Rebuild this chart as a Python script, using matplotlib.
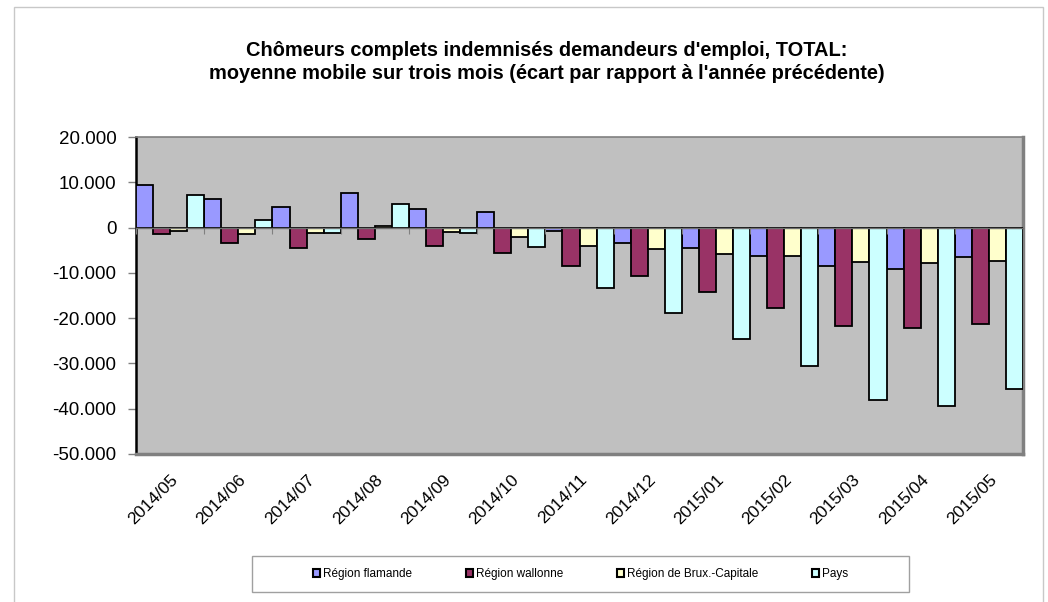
import matplotlib
matplotlib.use("Agg")
import matplotlib.pyplot as plt
import numpy as np
from matplotlib.patches import Patch, Rectangle
from matplotlib.ticker import FuncFormatter

plt.rcParams['font.family'] = ['Liberation Sans', 'DejaVu Sans']

categories = ["2014/05", "2014/06", "2014/07", "2014/08", "2014/09", "2014/10", "2014/11",
              "2014/12", "2015/01", "2015/02", "2015/03", "2015/04", "2015/05"]
flamande = [9500, 6400, 4500, 7600, 4000, 3400, -700, -3500, -4600, -6200, -8400, -9100, -6600]
wallonne = [-1400, -3400, -4500, -2600, -4100, -5600, -8500, -10700, -14200, -17700, -21800, -22200, -21400]
bruxelles = [-700, -1400, -1300, 300, -1000, -2000, -4100, -4700, -5800, -6200, -7500, -7900, -7400]
pays = [7300, 1600, -1300, 5200, -1200, -4400, -13300, -18900, -24600, -30500, -38000, -39500, -35700]

series_names = ["Région flamande", "Région wallonne", "Région de Brux.-Capitale", "Pays"]
series_values = [flamande, wallonne, bruxelles, pays]
colors = ["#9999FF", "#993366", "#FFFFCC", "#CCFFFF"]

title = ("Chômeurs complets indemnisés demandeurs d'emploi, TOTAL:\n"
         "moyenne mobile sur trois mois (écart par rapport à l'année précédente)")

W, H = 1048, 602
fig = plt.figure(figsize=(W / 100, H / 100), dpi=100)

# outer chart border
fig.patches.append(Rectangle((14 / W, -0.02), (1043 - 14) / W, 1 - 7 / H + 0.02,
                             transform=fig.transFigure, fill=False,
                             edgecolor="#C8C8C8", linewidth=1.0))

ax = fig.add_axes([136 / W, 1 - 454 / H, (1023 - 136) / W, (454 - 137) / H])
ax.set_facecolor("#C0C0C0")

x = np.arange(len(categories))
bw = 0.25
for k, (vals, col, name) in enumerate(zip(series_values, colors, series_names)):
    ax.bar(x + (k - 1.5) * bw, vals, width=bw, color=col, edgecolor="black",
           linewidth=1.3, label=name, zorder=3)

ymin, ymax = -50000, 20000
ax.set_ylim(ymin, ymax)
ax.set_xlim(-0.5, len(categories) - 0.5)
ax.set_yticks(np.arange(ymin, ymax + 1, 10000))
ax.yaxis.set_major_formatter(FuncFormatter(lambda v, p: f"{v:,.0f}".replace(",", ".")))
ax.tick_params(axis="y", direction="out", length=6, color="#808080", width=1,
               labelsize=13.5, pad=8)

ax.set_xticks(x)
ax.set_xticklabels(categories, rotation=45, ha="right", rotation_mode="anchor",
                   fontsize=12.5)
ax.tick_params(axis="x", length=0, pad=13)

for s in ["top"]:
    ax.spines[s].set_color("#808080")
    ax.spines[s].set_linewidth(1.2)
for s in ["right", "bottom"]:
    ax.spines[s].set_color("#808080")
    ax.spines[s].set_linewidth(2.5)
ax.spines["left"].set_color("black")
ax.spines["left"].set_linewidth(1.8)

# category axis line at zero
zero_loc = (0 - ymin) / (ymax - ymin)
sec = ax.secondary_xaxis(zero_loc)
sec.set_xticks(np.arange(-0.5, len(categories) + 0.5, 1.0))
sec.tick_params(direction="in", length=4, color="#808080", labeltop=False,
                labelbottom=False)
sec.spines["top"].set_color("#707070")
sec.spines["top"].set_linewidth(1.0)
sec.spines["bottom"].set_visible(False)
sec.set_zorder(4)

fig.text(547 / W, 1 - 62 / H, title, ha="center", va="center", fontsize=14.4,
         fontweight="bold", linespacing=1.25)

# legend box
lx0, lx1, ly0, ly1 = 252, 909, 556, 592
fig.patches.append(Rectangle((lx0 / W, 1 - ly1 / H), (lx1 - lx0) / W, (ly1 - ly0) / H,
                             transform=fig.transFigure, fill=True, facecolor="white",
                             edgecolor="#A0A0A0", linewidth=1.0))
handles = [Patch(facecolor=c, edgecolor="black", linewidth=1.5) for c in colors]
fig.legend(handles, series_names, loc="center",
           bbox_to_anchor=((lx0 + lx1) / 2 / W, 1 - (ly0 + ly1) / 2 / H),
           ncol=4, frameon=False, fontsize=8.5, handlelength=0.6, handleheight=0.6,
           handletextpad=0.2, columnspacing=4.6)

fig.savefig("out.png", dpi=100)
